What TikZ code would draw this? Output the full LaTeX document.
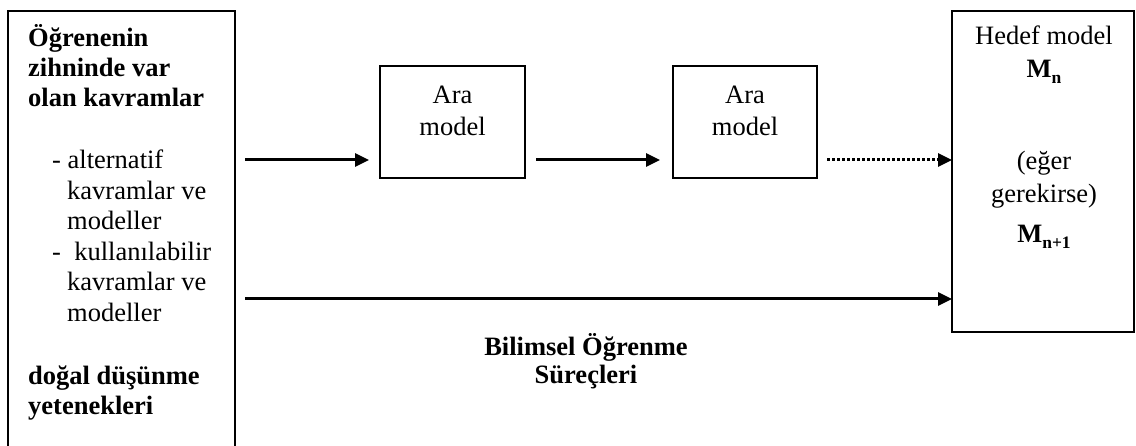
\documentclass[tikz,border=0pt]{standalone}
\usepackage{fontspec}
\setmainfont{Liberation Serif}
\usetikzlibrary{arrows.meta}

% bold M with a lowered bold index
\newcommand{\modelidx}[1]{\textbf{M}\raisebox{-0.22em}{\fontsize{17.5}{17.5}\selectfont\bfseries #1}}

\begin{document}
\begin{tikzpicture}[x=1pt, y=-1pt,
  box/.style={draw, line width=2pt, rectangle, inner sep=0pt, outer sep=0pt},
  txt/.style={inner sep=0pt, anchor=base, font=\fontsize{26.5}{30.5}\selectfont},
  txtl/.style={txt, anchor=base west},
  hd/.style={txtl, font=\fontsize{26.5}{30.5}\selectfont\bfseries},
  flow/.style={line width=3pt, -{Triangle[length=14pt,width=13pt]}},
  dots/.style={dash pattern=on 3pt off 2pt}
]
\useasboundingbox (0,0) rectangle (1136,446);
\clip (0,0) rectangle (1136,446);

% boxes
\node[box, minimum width=227pt, minimum height=445pt] (src) at (121.5,233.5) {};
\node[box, minimum width=145pt, minimum height=112pt] (m1) at (452.5,122) {};
\node[box, minimum width=144pt, minimum height=112pt] (m2) at (745,122) {};
\node[box, minimum width=182pt, minimum height=321pt] (goal) at (1043,171.5) {};

% text of the starting box
\node[hd] (s1) at (28,47) {Öğrenenin};
\node[hd] (s2) at (28,77) {zihninde var};
\node[hd] (s3) at (28,107) {olan kavramlar};
\node[txtl] (l1) at (52,169) {- alternatif};
\node[txtl] (l2) at (67,200) {kavramlar ve};
\node[txtl] (l3) at (67,230) {modeller};
\node[txtl] (l4) at (52,261) {-\ \ kullanılabilir};
\node[txtl] (l5) at (67,291) {kavramlar ve};
\node[txtl] (l6) at (67,322) {modeller};
\node[hd] (b1) at (28,385) {doğal düşünme};
\node[hd] (b2) at (28,415) {yetenekleri};

% intermediate models
\node[txt] (m1a) at (452.5,104) {Ara};
\node[txt] (m1b) at (452.5,136) {model};
\node[txt] (m2a) at (745,104) {Ara};
\node[txt] (m2b) at (745,136) {model};

% target model
\node[txt] (g1) at (1044,45) {Hedef model};
\node[txt] (g2) at (1044,78) {\modelidx{n}};
\node[txt] (g3) at (1044,170) {(eğer};
\node[txt] (g4) at (1044,203) {gerekirse)};
\node[txt] (g5) at (1044,243) {\modelidx{n+1}};

% process label
\node[txt, font=\fontsize{26.5}{30.5}\selectfont\bfseries] (p1) at (586,356) {Bilimsel Öğrenme};
\node[txt, font=\fontsize{26.5}{30.5}\selectfont\bfseries] (p2) at (586,384) {Süreçleri};

% connectors
\coordinate (ya) at (0,160);
\coordinate (yb) at (0,299);
\draw[flow, shorten <=10pt, shorten >=11pt] (src.east |- ya) -- (m1.west |- ya);
\draw[flow, shorten <=11pt, shorten >=13pt] (m1.east |- ya) -- (m2.west |- ya);
\draw[flow, dots, shorten <=10pt] (m2.east |- ya) -- (goal.west |- ya);
\draw[flow, shorten <=10pt] (src.east |- yb) -- (goal.west |- yb);
\end{tikzpicture}
\end{document}
